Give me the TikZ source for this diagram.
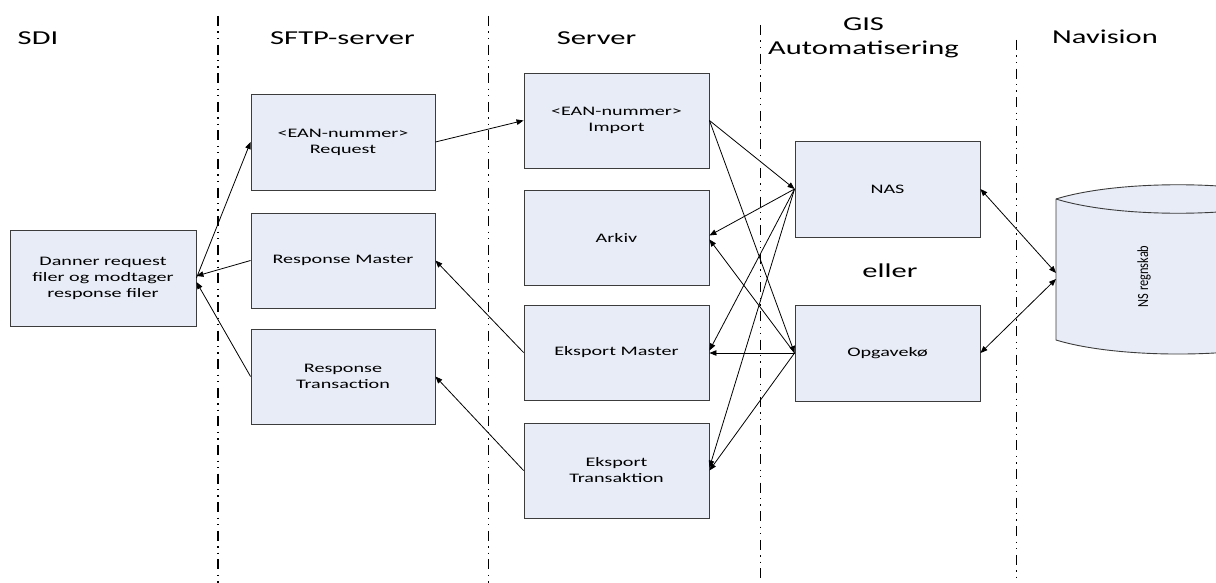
\documentclass[tikz,border=0pt]{standalone}
\usepackage{fontspec}
\setmainfont{Carlito}[FakeStretch=1.55]
\newfontfamily\plainfont{Carlito}[FakeStretch=0.8]
\usetikzlibrary{arrows.meta}
\definecolor{boxfill}{RGB}{231,236,246}
\definecolor{boxline}{RGB}{60,60,60}
\tikzset{
  box/.style={draw=boxline, fill=boxfill, line width=0.9pt, minimum width=185pt, minimum height=95pt,
    align=center, inner sep=0pt, font=\fontsize{13}{16}\selectfont},
  title/.style={anchor=base, inner sep=0pt, font=\fontsize{19.7}{24}\selectfont},
  divider/.style={line width=1.8pt, dash pattern=on 10pt off 5.5pt on 1.3pt off 5pt on 1.3pt off 5.5pt},
  conn/.style={line width=0.8pt, -{Triangle[length=7pt,width=5.5pt]}},
  dconn/.style={line width=0.8pt, {Triangle[length=7pt,width=5.5pt]}-{Triangle[length=7pt,width=5.5pt]}},
}
\begin{document}
\begin{tikzpicture}[x=1pt,y=-1pt]
\useasboundingbox (0,0) rectangle (1216,583);
% dividers
\draw[divider] (218,16) -- (218,583);
\draw[divider] (488.5,16) -- (488.5,583);
\draw[divider] (760.5,25) -- (760.5,583);
\draw[divider] (1016.5,40) -- (1016.5,583);
% titles
\node[title] (tsdi) at (38,45) {SDI};
\node[title] (tsftp) at (342.5,45) {SFTP-server};
\node[title] (tserver) at (596.5,44.5) {Server};
\node[title] (tgis) at (863.5,30.7) {GIS};
\node[title] (tauto) at (863.5,55) {Automatisering};
\node[title] (tnav) at (1105,43.3) {Navision};
\node[title] (teller) at (890,277.3) {eller};
% boxes
\node[box, minimum width=186pt, minimum height=96pt] (sdi) at (103,278) {Danner request\\filer og modtager\\response filer};
\node[box, minimum width=184pt, minimum height=96pt] (req) at (343,142) {<EAN-nummer>\\Request};
\node[box, minimum width=184pt] (rmaster) at (343,260.5) {Response Master};
\node[box, minimum width=184pt] (rtrans) at (343,376.5) {Response\\Transaction};
\node[box] (imp) at (616.5,120.5) {<EAN-nummer>\\Import};
\node[box] (ark) at (616.5,237.5) {Arkiv};
\node[box] (emaster) at (616.5,352.5) {Eksport Master};
\node[box] (etrans) at (616.5,470.5) {Eksport\\Transaktion};
\node[box, minimum height=96pt] (nas) at (887.5,189) {NAS};
\node[box, minimum height=96pt] (opg) at (887.5,353) {Opgavekø};
% database cylinder
\begin{scope}
\clip (0,0) rectangle (1216,583);
\draw[draw=boxline, fill=boxfill, line width=0.9pt]
  (1056,199) .. controls (1117,180) and (1239,180) .. (1300,199)
  -- (1300,340) .. controls (1239,358.7) and (1117,358.7) .. (1056,340) -- cycle;
\draw[draw=boxline, line width=0.9pt] (1056,199) .. controls (1117,218) and (1239,218) .. (1300,199);
\end{scope}
\node[rotate=90, inner sep=0pt, font=\plainfont\fontsize{15.5}{18}\selectfont] (db) at (1144,276.5) {NS regnskab};
\coordinate (dbA) at (1056,273);
\coordinate (dbB) at (1056,279);
% connectors
\draw[conn] (sdi.east) -- (req.west);
\draw[conn] (rmaster.west) -- ([yshift=2pt]sdi.east);
\draw[conn] (rtrans.west) -- ([yshift=-4pt]sdi.east);
\draw[conn] (req.east) -- (imp.west);
\draw[conn] (emaster.west) -- (rmaster.east);
\draw[conn] (etrans.west) -- (rtrans.east);
\draw[conn] (imp.east) -- (nas.west);
\draw[conn] (imp.east) -- (opg.west);
\draw[conn] (nas.west) -- ([yshift=2pt]ark.east);
\draw[conn] (opg.west) -- ([yshift=-2pt]ark.east);
\draw[conn] (nas.west) -- ([yshift=2pt]emaster.east);
\draw[conn] (opg.west) -- ([yshift=-0.5pt]emaster.east);
\draw[conn] (nas.west) -- ([yshift=3pt]etrans.east);
\draw[conn] (opg.west) -- (etrans.east);
\draw[dconn] (nas.east) -- (dbA);
\draw[dconn] (opg.east) -- (dbB);
\end{tikzpicture}
\end{document}
